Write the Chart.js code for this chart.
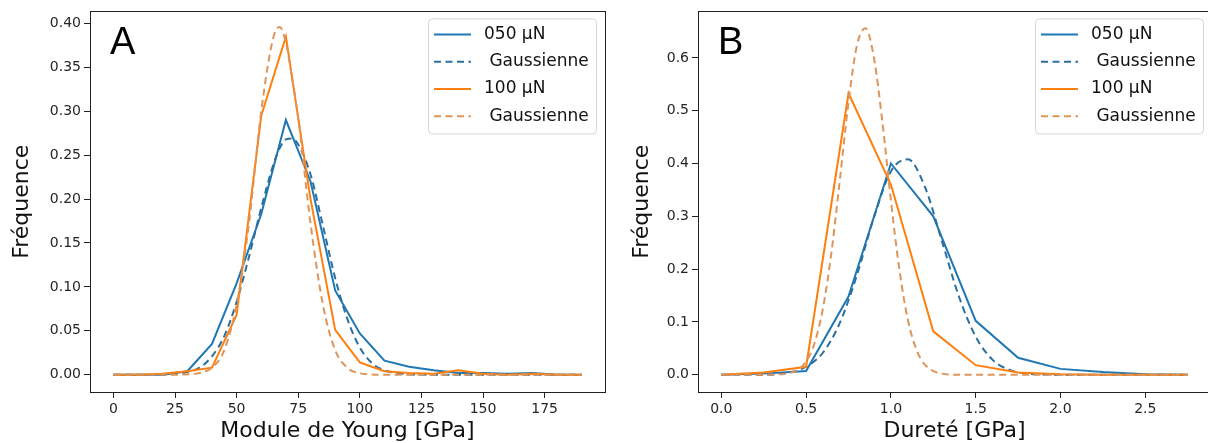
<!DOCTYPE html>
<html>
<head>
<meta charset="utf-8">
<script src="https://cdn.jsdelivr.net/npm/chart.js@4/dist/chart.umd.min.js"></script>
<style>
    html, body { margin: 0; padding: 0; background: #fff; overflow: hidden; }
    #wrap { position: relative; width: 1208px; height: 443px; overflow: hidden; }
    canvas { position: absolute; top: 0; }
</style>
</head>
<body>
<div id="wrap">
    <canvas id="chartA" width="610" height="443" style="left:0px"></canvas>
    <canvas id="chartB" width="603" height="443" style="left:610px"></canvas>
</div>
<script>
// Panel A - module de Young (histogramme + gaussienne)
const youngX = [0, 10, 20, 30, 40, 50, 60, 70, 80, 90, 100, 110, 120, 130, 140, 150, 160, 170, 180, 190];
const young050 = [0, 0, 0, 0.004, 0.035, 0.104, 0.183, 0.29, 0.22, 0.096, 0.047, 0.016, 0.009, 0.005, 0.002, 0.002, 0.001, 0.002, 0, 0];
const young100 = [0, 0, 0.001, 0.004, 0.008, 0.068, 0.295, 0.385, 0.2, 0.051, 0.014, 0.004, 0.002, 0.001, 0.005, 0.001, 0, 0.001, 0, 0];

const youngFitX = [0, 20, 25, 30, 35, 40, 45, 50, 55, 60, 65, 67.5, 70, 72.5, 75, 80, 85, 90, 95, 100, 105, 110, 115, 120, 130, 190];
const youngFit050 = [0, 0, 0.001, 0.003, 0.008, 0.021, 0.044, 0.083, 0.134, 0.19, 0.24, 0.258, 0.268, 0.269, 0.262, 0.228, 0.17, 0.11, 0.063, 0.031, 0.013, 0.005, 0.002, 0.0005, 0, 0];
const youngFit100 = [0, 0, 0, 0.0005, 0.002, 0.008, 0.028, 0.08, 0.172, 0.3, 0.385, 0.396, 0.378, 0.338, 0.292, 0.172, 0.08, 0.028, 0.0077, 0.0016, 0.0003, 0, 0, 0, 0, 0];

const youngTicksX = [0, 25, 50, 75, 100, 125, 150, 175];
const youngTicksY = [0, 0.05, 0.10, 0.15, 0.20, 0.25, 0.30, 0.35, 0.40];

// Panel B - dureté
const hardX = [0, 0.25, 0.5, 0.75, 1.0, 1.25, 1.5, 1.75, 2.0, 2.25, 2.5, 2.75];
const hard050 = [0, 0.002, 0.007, 0.148, 0.4, 0.3, 0.102, 0.032, 0.011, 0.005, 0.001, 0];
const hard100 = [0, 0.004, 0.015, 0.533, 0.36, 0.082, 0.018, 0.004, 0.001, 0, 0, 0];

const hardFitX050 = [0, 0.25, 0.4, 0.5, 0.6, 0.7, 0.8, 0.9, 1.0, 1.1, 1.2, 1.3, 1.4, 1.5, 1.6, 1.7, 1.8, 1.9, 2.0, 2.75];
const hardFit050 = [0, 0, 0.004, 0.015, 0.042, 0.099, 0.189, 0.298, 0.385, 0.408, 0.356, 0.254, 0.149, 0.072, 0.028, 0.009, 0.002, 0.0005, 0, 0];
const hardFitX100 = [0, 0.25, 0.4, 0.5, 0.55, 0.6, 0.65, 0.7, 0.75, 0.8, 0.85, 0.9, 0.95, 1.0, 1.05, 1.1, 1.15, 1.2, 1.3, 1.4, 2.75];
const hardFit100 = [0, 0, 0.003, 0.025, 0.06, 0.127, 0.233, 0.372, 0.516, 0.624, 0.656, 0.6, 0.478, 0.33, 0.199, 0.104, 0.048, 0.019, 0.002, 0, 0];

const hardTicksX = [0, 0.5, 1.0, 1.5, 2.0, 2.5];
const hardTicksY = [0, 0.1, 0.2, 0.3, 0.4, 0.5, 0.6];

const seriesLabels = ['050 µN', ' Gaussienne', '100 µN', ' Gaussienne'];

const BLUE = '#1f77b4';
const BLUE_FIT = '#2b6f9f';
const ORANGE = '#ff7f0e';
const ORANGE_FIT = '#dc955a';

Chart.defaults.font.family = "'DejaVu Sans', sans-serif";
Chart.defaults.color = '#262626';

function pts(xs, ys) {
    return xs.map((x, i) => ({ x: x, y: ys[i] }));
}

// cadre complet autour de la zone de tracé
const frame = {
    id: 'frame',
    afterDraw(chart) {
        const a = chart.chartArea;
        const ctx = chart.ctx;
        ctx.save();
        ctx.strokeStyle = '#222';
        ctx.lineWidth = 1;
        ctx.strokeRect(Math.round(a.left) + 0.5, Math.round(a.top) + 0.5,
            Math.round(a.right - a.left), Math.round(a.bottom - a.top));
        ctx.restore();
    }
};

// légende façon matplotlib (en haut à droite) + lettre du panneau
const mplLegend = {
    id: 'mplLegend',
    afterDraw(chart, args, opts) {
        const a = chart.chartArea;
        const ctx = chart.ctx;
        const w = 168, h = 115;
        const x0 = a.right - opts.right - w;
        const y0 = a.top + 7;
        ctx.save();
        ctx.beginPath();
        ctx.roundRect(x0 + 0.5, y0 + 0.5, w, h, 4);
        ctx.fillStyle = 'rgba(255,255,255,0.85)';
        ctx.fill();
        ctx.strokeStyle = '#d6d6d6';
        ctx.lineWidth = 1;
        ctx.stroke();

        chart.data.datasets.forEach((ds, i) => {
            const yy = y0 + 16 + i * 27.3;
            ctx.beginPath();
            ctx.setLineDash(ds.borderDash || []);
            ctx.strokeStyle = ds.borderColor;
            ctx.lineWidth = ds.borderWidth;
            ctx.moveTo(x0 + 6, yy);
            ctx.lineTo(x0 + 43, yy);
            ctx.stroke();
            ctx.setLineDash([]);
            ctx.fillStyle = '#111';
            ctx.font = "17px 'DejaVu Sans'";
            ctx.textBaseline = 'middle';
            ctx.textAlign = 'left';
            ctx.fillText(ds.label, x0 + 56, yy);
        });

        ctx.fillStyle = '#000';
        ctx.font = "38px 'Liberation Sans'";
        ctx.textBaseline = 'alphabetic';
        ctx.fillText(opts.letter, a.left + 20, a.top + 43);
        ctx.restore();
    }
};

function makeDatasets(x, y050, fitX050, fit050, y100, fitX100, fit100) {
    return [
        { label: seriesLabels[0], data: pts(x, y050), borderColor: BLUE, borderWidth: 2, order: 4 },
        { label: seriesLabels[1], data: pts(fitX050, fit050), borderColor: BLUE_FIT, borderWidth: 2,
          borderDash: [7, 4.5], cubicInterpolationMode: 'monotone', order: 3 },
        { label: seriesLabels[2], data: pts(x, y100), borderColor: ORANGE, borderWidth: 2, order: 2 },
        { label: seriesLabels[3], data: pts(fitX100, fit100), borderColor: ORANGE_FIT, borderWidth: 2,
          borderDash: [7, 4.5], cubicInterpolationMode: 'monotone', order: 1 }
    ];
}

function makeOptions(cfg) {
    return {
        responsive: false,
        animation: false,
        layout: { padding: { left: 0, top: 10, right: cfg.padRight, bottom: 0 } },
        elements: { point: { radius: 0 }, line: { tension: 0 } },
        plugins: {
            legend: { display: false },
            tooltip: { enabled: false },
            mplLegend: { right: cfg.legendRight, letter: cfg.letter }
        },
        scales: {
            x: {
                type: 'linear',
                min: cfg.xMin, max: cfg.xMax,
                afterBuildTicks: s => { s.ticks = cfg.ticksX.map(v => ({ value: v })); },
                afterFit: s => { s.height = 51; },
                border: { display: false },
                grid: { drawOnChartArea: false, drawTicks: true, tickLength: 6, tickColor: '#222' },
                ticks: { font: { size: 14 }, padding: 3, autoSkip: false, maxRotation: 0,
                         callback: cfg.fmtX },
                title: { display: true, text: cfg.titleX, color: '#111',
                         font: { size: 22, lineHeight: 1.1 }, padding: { top: 0, bottom: 0 } }
            },
            y: {
                type: 'linear',
                min: cfg.yMin, max: cfg.yMax,
                afterBuildTicks: s => { s.ticks = cfg.ticksY.map(v => ({ value: v })); },
                afterFit: s => { s.width = cfg.yWidth; },
                border: { display: false },
                grid: { drawOnChartArea: false, drawTicks: true, tickLength: 6, tickColor: '#222' },
                ticks: { font: { size: 14 }, padding: 3, callback: cfg.fmtY },
                title: { display: true, text: 'Fréquence', color: '#111',
                         font: { size: 22, lineHeight: 1.2 }, padding: { top: cfg.yTitlePad, bottom: 0 } }
            }
        }
    };
}

new Chart(document.getElementById('chartA'), {
    type: 'line',
    data: { datasets: makeDatasets(youngX, young050, youngFitX, youngFit050, young100, youngFitX, youngFit100) },
    options: makeOptions({
        padRight: 5, legendRight: 9, letter: 'A',
        xMin: -9.5, xMax: 199.5, yMin: -0.0197, yMax: 0.4137,
        ticksX: youngTicksX, ticksY: youngTicksY,
        fmtX: v => String(v), fmtY: v => v.toFixed(2),
        titleX: 'Module de Young [GPa]', yWidth: 90, yTitlePad: 9
    }),
    plugins: [frame, mplLegend]
});

new Chart(document.getElementById('chartB'), {
    type: 'line',
    data: { datasets: makeDatasets(hardX, hard050, hardFitX050, hardFit050, hard100, hardFitX100, hardFit100) },
    options: makeOptions({
        padRight: 2, legendRight: 8, letter: 'B',
        xMin: -0.1375, xMax: 2.8875, yMin: -0.0328, yMax: 0.688,
        ticksX: hardTicksX, ticksY: hardTicksY,
        fmtX: v => v.toFixed(1), fmtY: v => v.toFixed(1),
        titleX: 'Dureté [GPa]', yWidth: 88, yTitlePad: 19
    }),
    plugins: [frame, mplLegend]
});
</script>
</body>
</html>
